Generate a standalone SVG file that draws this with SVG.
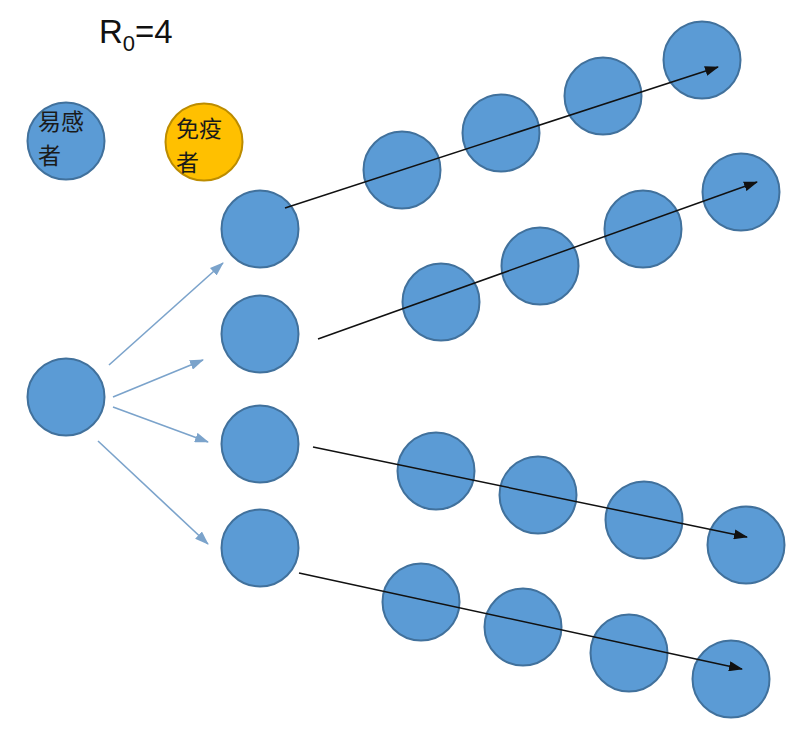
<svg xmlns="http://www.w3.org/2000/svg" width="797" height="740" viewBox="0 0 797 740">
<defs>
<style>
.c{fill:#5b9bd5;stroke:#41719c;stroke-width:2}
.y{fill:#ffc000;stroke:#bc8c00;stroke-width:2}
.b{stroke:#7ba3cb;stroke-width:1.6;fill:none;marker-end:url(#ab)}
.k{stroke:#111;stroke-width:1.5;fill:none;marker-end:url(#ak)}
.t{font-family:"Noto Sans CJK SC","Noto Sans CJK JP",sans-serif;font-size:23px;fill:#1a1a1a}
.r{font-family:"Liberation Sans",Arial,sans-serif;fill:#111}
</style>
<marker id="ab" viewBox="0 0 14 10" refX="13" refY="5" markerWidth="14" markerHeight="10" markerUnits="userSpaceOnUse" orient="auto"><path d="M0,0L14,5L0,10z" fill="#7ba3cb"/></marker>
<marker id="ak" viewBox="0 0 14 10" refX="13" refY="5" markerWidth="14" markerHeight="10" markerUnits="userSpaceOnUse" orient="auto"><path d="M0,0L14,5L0,10z" fill="#111"/></marker>
</defs>
<rect width="797" height="740" fill="#fff"/>
<g id="title"><text class="r" x="99" y="43" font-size="33">R<tspan font-size="22" dy="8">0</tspan><tspan dy="-8">=4</tspan></text></g>
<g id="legend-susceptible"><circle class="c" cx="66" cy="141" r="38.5"/><text class="t" x="38" y="130">易感</text><text class="t" x="38" y="164">者</text></g>
<g id="legend-immune"><circle class="y" cx="204" cy="142" r="38.5"/><text class="t" x="176" y="137">免疫</text><text class="t" x="176" y="171">者</text></g>
<g id="source"><circle class="c" cx="66" cy="397" r="38.5"/></g>
<g id="gen1">
<circle class="c" cx="260" cy="229" r="38.5"/>
<circle class="c" cx="260" cy="334" r="38.5"/>
<circle class="c" cx="260" cy="444" r="38.5"/>
<circle class="c" cx="260" cy="548" r="38.5"/>
</g>
<g id="chain1">
<circle class="c" cx="402" cy="170" r="38.5"/>
<circle class="c" cx="501" cy="133" r="38.5"/>
<circle class="c" cx="603" cy="96" r="38.5"/>
<circle class="c" cx="702" cy="60" r="38.5"/>
</g>
<g id="chain2">
<circle class="c" cx="441" cy="302" r="38.5"/>
<circle class="c" cx="540" cy="266" r="38.5"/>
<circle class="c" cx="643" cy="229" r="38.5"/>
<circle class="c" cx="741" cy="192" r="38.5"/>
</g>
<g id="chain3">
<circle class="c" cx="436" cy="471" r="38.5"/>
<circle class="c" cx="538" cy="495" r="38.5"/>
<circle class="c" cx="644" cy="520" r="38.5"/>
<circle class="c" cx="746" cy="545" r="38.5"/>
</g>
<g id="chain4">
<circle class="c" cx="421" cy="602" r="38.5"/>
<circle class="c" cx="523" cy="627" r="38.5"/>
<circle class="c" cx="629" cy="653" r="38.5"/>
<circle class="c" cx="731" cy="679" r="38.5"/>
</g>
<g id="connectors">
<line class="b" x1="109" y1="365" x2="223" y2="263"/>
<line class="b" x1="113" y1="397" x2="203" y2="360"/>
<line class="b" x1="113" y1="407" x2="208" y2="442"/>
<line class="b" x1="98" y1="441" x2="208" y2="544"/>
<line class="k" x1="285" y1="208" x2="718" y2="67"/>
<line class="k" x1="318" y1="339" x2="757" y2="182"/>
<line class="k" x1="313" y1="447" x2="747" y2="537"/>
<line class="k" x1="299" y1="573" x2="742" y2="669"/>
</g>
</svg>
